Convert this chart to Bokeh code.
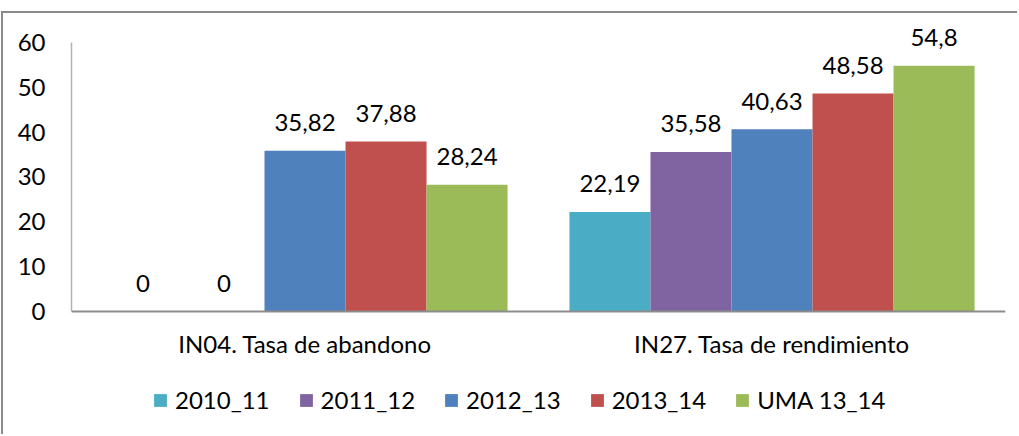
from bokeh.plotting import figure
from bokeh.models import FactorRange, Range1d, FixedTicker, Legend, LegendItem, ColumnDataSource, Span
from bokeh.transform import dodge
from bokeh.core.properties import value
from bokeh.embed import file_html
from bokeh.resources import INLINE

categories = ["IN04. Tasa de abandono", "IN27. Tasa de rendimiento"]
series = ["2010_11", "2011_12", "2012_13", "2013_14", "UMA 13_14"]
colors = ["#4BACC6", "#8064A2", "#4F81BD", "#C0504D", "#9BBB59"]
values_2010_11 = [0, 22.19]
values_2011_12 = [0, 35.58]
values_2012_13 = [35.82, 40.63]
values_2013_14 = [37.88, 48.58]
values_uma_13_14 = [28.24, 54.8]
y_ticks = [0, 10, 20, 30, 40, 50, 60]

all_values = [values_2010_11, values_2011_12, values_2012_13, values_2013_14, values_uma_13_14]

FONT = "Lato"
FS = "24px"

W, H = 1016, 423
p = figure(x_range=FactorRange(*categories, range_padding=0), y_range=Range1d(-27.88, 66.0),
           width=W, height=H, output_backend="svg", toolbar_location=None,
           x_axis_location=None,
           min_border_left=68, min_border_right=14, min_border_top=2, min_border_bottom=0)
p.styles = {"margin-top": "11px", "margin-left": "1px",
            "border-top": "2px solid #8a8a8a", "border-left": "2px solid #8a8a8a"}
p.outline_line_color = None
p.grid.grid_line_color = None
p.background_fill_color = "white"
p.border_fill_color = "white"

bw = 0.1735
offsets = [-2 * bw, -bw, 0, bw, 2 * bw]
items = []
for name, vals, col, off in zip(series, all_values, colors, offsets):
    src = ColumnDataSource(dict(cat=categories, val=vals,
                                lab=[("%g" % v).replace(".", ",") for v in vals]))
    r = p.vbar(x=dodge("cat", off, range=p.x_range), top="val", width=bw, source=src,
               fill_color=col, line_color=None)
    p.text(x=dodge("cat", off, range=p.x_range), y="val", text="lab", source=src,
           text_align="center", text_baseline="middle", y_offset=-28,
           text_font=value(FONT), text_font_size=FS, text_color="#000000")
    items.append(LegendItem(label=name, renderers=[r]))

# category axis: line at zero and category labels below it
p.add_layout(Span(location=0, dimension="width", line_color="#8c8c8c", line_width=2))
cat_src = ColumnDataSource(dict(cat=categories, base=[0] * len(categories)))
p.text(x="cat", y="base", text="cat", source=cat_src,
       text_align="center", text_baseline="middle", y_offset=32,
       text_font=value(FONT), text_font_size=FS, text_color="#000000")

yax = p.yaxis[0]
yax.bounds = (0, 60)
yax.ticker = FixedTicker(ticks=y_ticks)
yax.axis_line_color = "#b3b3b3"
yax.axis_line_width = 1.5
yax.major_tick_line_color = None
yax.minor_tick_line_color = None
yax.major_label_text_font = FONT
yax.major_label_text_font_size = FS
yax.major_label_text_color = "#000000"
yax.major_label_standoff = 20

legend = Legend(items=items, orientation="horizontal", location=(81, 22),
                glyph_width=16, glyph_height=16, label_standoff=7, spacing=28,
                label_text_font=FONT, label_text_font_size=FS, label_text_color="#000000",
                border_line_color=None, background_fill_alpha=0, margin=0, padding=0)
p.add_layout(legend, "center")

open("out.html", "w").write(file_html(p, INLINE))
